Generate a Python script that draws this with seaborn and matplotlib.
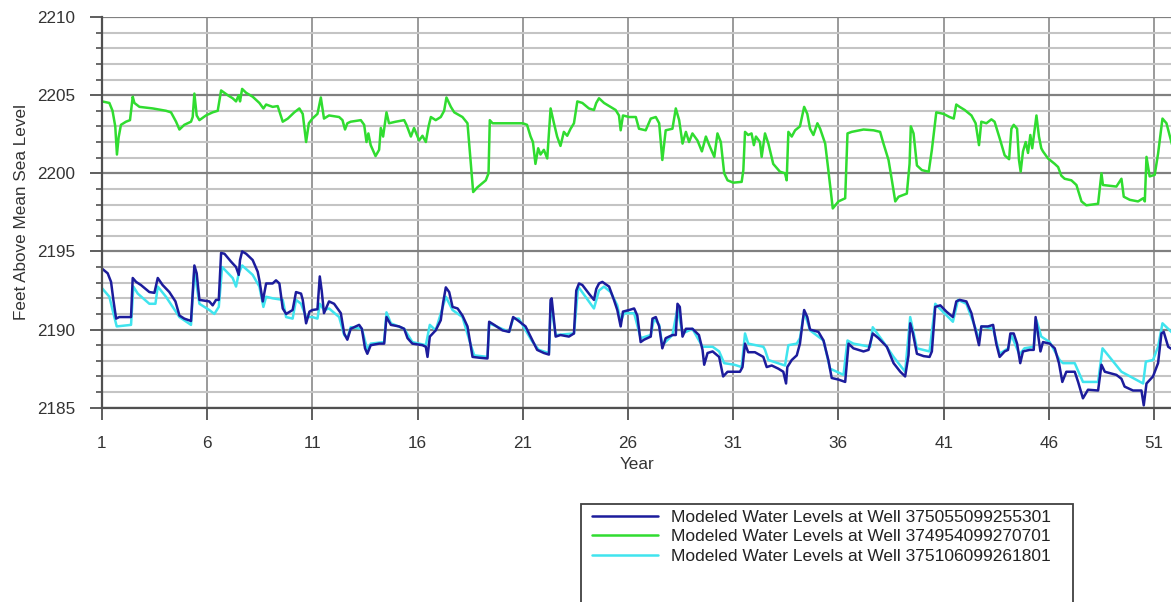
import pandas as pd
import numpy as np
import seaborn as sns
import matplotlib.pyplot as plt
from matplotlib.ticker import MultipleLocator
from matplotlib.patches import Rectangle

# well labels
label_a = 'Modeled Water Levels at Well 375055099255301'
label_b = 'Modeled Water Levels at Well 374954099270701'
label_c = 'Modeled Water Levels at Well 375106099261801'

# well 374954099270701 (green, upper series)
green_year = [1.0, 1.35, 1.5, 1.63, 1.71, 1.79, 1.9, 2.14, 2.33, 2.46, 2.54, 2.78, 3.41, 4.04, 4.28, 4.52,
              4.68, 4.91, 5.23, 5.31, 5.39, 5.5, 5.63, 5.94, 6.26, 6.5, 6.66, 6.97, 7.21, 7.37, 7.5, 7.56,
              7.66, 7.85, 8.16, 8.48, 8.67, 8.8, 9.11, 9.35, 9.59, 9.83, 10.14, 10.38, 10.54, 10.7, 10.83,
              11.0, 11.24, 11.4, 11.55, 11.79, 12.27, 12.43, 12.55, 12.66, 12.82, 13.3, 13.46, 13.57, 13.66,
              13.77, 14.0, 14.17, 14.25, 14.36, 14.52, 14.64, 14.96, 15.36, 15.47, 15.68, 15.83, 16.07, 16.23,
              16.39, 16.52, 16.63, 16.86, 17.1, 17.26, 17.37, 17.58, 17.74, 18.13, 18.37, 18.53, 18.64, 18.84,
              19.24, 19.37, 19.43, 19.56, 20.35,
              21.0, 21.2, 21.37, 21.48, 21.6, 21.73, 21.84, 22.0, 22.16, 22.32, 22.48, 22.63, 22.79, 22.95,
              23.11, 23.27, 23.43, 23.59, 23.83, 24.14, 24.38, 24.49, 24.62, 24.86, 25.17, 25.41, 25.57, 25.65,
              25.76, 26.05, 26.37, 26.52, 26.84, 27.08, 27.32, 27.48, 27.63, 27.79, 28.11, 28.27, 28.43, 28.59,
              28.75, 28.9, 29.06, 29.3, 29.51, 29.7, 29.86, 30.1, 30.25, 30.41, 30.57, 30.73,
              31.0, 31.4, 31.48, 31.56, 31.71, 31.87, 31.98, 32.08, 32.27, 32.35, 32.51, 32.67, 32.9, 33.22,
              33.46, 33.54, 33.62, 33.78, 33.94, 34.17, 34.37, 34.52, 34.65, 34.81, 35.0, 35.13, 35.37, 35.52,
              35.73, 36.0, 36.32, 36.43, 36.63, 37.19, 37.67, 37.98, 38.14, 38.38, 38.54, 38.7, 38.86, 39.25,
              39.38, 39.44, 39.57, 39.73, 39.97, 40.29, 40.44, 40.65,
              41.0, 41.28, 41.48, 41.6, 41.76, 42.0, 42.32, 42.52, 42.68, 42.79, 43.03, 43.27, 43.42, 43.66,
              43.9, 44.11, 44.22, 44.33, 44.49, 44.58, 44.66, 44.77, 44.9, 45.01, 45.12, 45.21, 45.41, 45.53,
              45.64, 45.72, 45.96, 46.28, 46.44, 46.59, 46.75, 47.07, 47.31, 47.55, 47.78, 48.34, 48.5, 48.57,
              49.21, 49.45, 49.56, 49.85, 50.24, 50.48, 50.56, 50.64, 50.79, 51.03, 51.19, 51.4, 51.59, 51.9]
green_ft = [2204.6, 2204.5, 2204.0, 2203.0, 2201.2, 2202.3, 2203.1, 2203.3, 2203.4, 2204.9, 2204.5, 2204.25,
            2204.15, 2204.0, 2203.9, 2203.3, 2202.8, 2203.1, 2203.3, 2203.6, 2205.1, 2203.7, 2203.4, 2203.7,
            2203.9, 2204.0, 2205.3, 2205.0, 2204.8, 2204.6, 2205.0, 2204.6, 2205.4, 2205.15, 2204.9, 2204.5,
            2204.15, 2204.4, 2204.25, 2204.3, 2203.3, 2203.5, 2203.9, 2204.15, 2203.8, 2202.0, 2203.2,
            2203.5, 2203.8, 2204.85, 2203.5, 2203.7, 2203.6, 2203.4, 2202.8, 2203.2, 2203.3, 2203.4, 2203.1,
            2202.0, 2202.55, 2201.8, 2201.1, 2201.5, 2202.9, 2202.35, 2203.9, 2203.2, 2203.3, 2203.4, 2203.1,
            2202.35, 2202.9, 2202.1, 2202.4, 2202.0, 2203.0, 2203.6, 2203.4, 2203.6, 2204.0, 2204.85, 2204.25,
            2203.9, 2203.6, 2203.2, 2200.6, 2198.8, 2199.1, 2199.55, 2200.0, 2203.4, 2203.2, 2203.2,
            2203.2, 2203.1, 2202.35, 2202.0, 2200.6, 2201.6, 2201.2, 2201.5, 2200.95, 2204.15, 2203.2, 2202.35,
            2201.75, 2202.65, 2202.4, 2202.85, 2203.2, 2204.6, 2204.5, 2204.15, 2204.05, 2204.5, 2204.8, 2204.5,
            2204.25, 2204.05, 2203.7, 2202.75, 2203.7, 2203.6, 2203.6, 2202.85, 2202.75, 2203.5, 2203.6, 2203.2,
            2200.85, 2202.75, 2202.85, 2204.15, 2203.4, 2201.9, 2202.65, 2202.0, 2202.55, 2202.1, 2201.4,
            2202.35, 2201.8, 2201.05, 2202.55, 2202.0, 2200.0, 2199.55,
            2199.4, 2199.45, 2200.2, 2202.65, 2202.45, 2202.55, 2201.8, 2202.35, 2202.0, 2201.05, 2202.55,
            2201.9, 2200.6, 2200.1, 2200.0, 2199.55, 2202.65, 2202.35, 2202.75, 2203.0, 2204.25, 2203.8,
            2202.85, 2202.45, 2203.2, 2202.85, 2201.9, 2200.2, 2197.75, 2198.2, 2198.4, 2202.55, 2202.65,
            2202.8, 2202.75, 2202.65, 2201.9, 2200.85, 2199.55, 2198.2, 2198.5, 2198.7, 2200.6, 2203.0,
            2202.55, 2200.5, 2200.2, 2200.1, 2201.5, 2203.9,
            2203.8, 2203.6, 2203.5, 2204.4, 2204.25, 2204.05, 2203.7, 2203.2, 2201.8, 2203.3, 2203.2, 2203.45,
            2203.3, 2202.25, 2201.15, 2200.9, 2202.85, 2203.1, 2202.85, 2200.85, 2200.1, 2201.4, 2202.0,
            2201.3, 2202.45, 2201.6, 2203.7, 2202.35, 2201.6, 2201.4, 2200.95, 2200.6, 2200.4, 2199.85,
            2199.65, 2199.55, 2199.25, 2198.2, 2197.95, 2198.05, 2200.0, 2199.25, 2199.15, 2199.65, 2198.5,
            2198.3, 2198.2, 2198.4, 2198.2, 2201.05, 2199.8, 2199.9, 2201.25, 2203.5, 2203.2, 2201.6]

# well 375055099255301 (dark blue)
blue_year = [1.0, 1.27, 1.43, 1.54, 1.67, 1.82, 2.38, 2.46, 2.62, 2.85, 3.25, 3.49, 3.65, 3.88, 4.2, 4.49,
             4.68, 4.91, 5.23, 5.34, 5.39, 5.5, 5.63, 5.87, 6.1, 6.26, 6.42, 6.55, 6.66, 6.82, 7.13, 7.37,
             7.5, 7.56, 7.66, 7.85, 8.16, 8.4, 8.48, 8.64, 8.8, 9.11, 9.27, 9.43, 9.59, 9.75, 10.06, 10.22,
             10.46, 10.54, 10.7, 10.86,
             11.0, 11.24, 11.35, 11.44, 11.55, 11.79, 12.03, 12.35, 12.51, 12.66, 12.82, 13.22, 13.35, 13.5,
             13.61, 13.77, 14.17, 14.41, 14.52, 14.73, 15.12, 15.36, 15.52, 15.75, 16.23, 16.39, 16.47, 16.58,
             16.86, 17.1, 17.21, 17.34, 17.5, 17.66, 17.9, 18.13, 18.37, 18.53, 18.61, 18.92, 19.32, 19.4,
             19.64, 20.03, 20.35, 20.54, 20.75,
             21.13, 21.44, 21.68, 22.0, 22.24, 22.32, 22.37, 22.56, 22.79, 23.19, 23.43, 23.54, 23.67, 23.83,
             24.14, 24.38, 24.49, 24.62, 24.78, 25.1, 25.33, 25.49, 25.65, 25.76, 26.05, 26.29, 26.44, 26.6,
             26.76, 27.08, 27.16, 27.32, 27.48, 27.63, 27.79, 28.11, 28.27, 28.35, 28.46, 28.59, 28.75, 29.06,
             29.37, 29.54, 29.62, 29.78, 30.02, 30.33, 30.52, 30.73,
             31.32, 31.44, 31.56, 31.71, 32.03, 32.43, 32.59, 32.83, 33.14, 33.38, 33.51, 33.57, 33.78, 34.02,
             34.17, 34.37, 34.52, 34.65, 35.05, 35.29, 35.52, 35.68, 36.0, 36.32, 36.48, 36.71, 37.19, 37.43,
             37.63, 37.9, 38.3, 38.62, 38.94, 39.17, 39.33, 39.41, 39.54, 39.73, 40.05, 40.33, 40.44, 40.6,
             40.84,
             41.13, 41.44, 41.6, 41.76, 42.08, 42.32, 42.55, 42.68, 42.79, 43.11, 43.35, 43.5, 43.66, 43.9,
             44.06, 44.17, 44.33, 44.49, 44.64, 44.77, 45.09, 45.28, 45.37, 45.48, 45.6, 45.72, 46.04, 46.28,
             46.48, 46.64, 46.83, 47.23, 47.39, 47.62, 47.86, 48.34, 48.5, 48.66, 49.21, 49.45, 49.6, 50.0,
             50.4, 50.51, 50.64, 50.95, 51.19, 51.35, 51.46, 51.67, 51.9]
blue_ft = [2193.9, 2193.6, 2193.05, 2191.9, 2190.7, 2190.8, 2190.8, 2193.3, 2193.05, 2192.85, 2192.4, 2192.35,
           2193.3, 2192.85, 2192.4, 2191.8, 2190.9, 2190.7, 2190.55, 2192.95, 2194.1, 2193.6, 2191.9, 2191.85,
           2191.8, 2191.55, 2191.9, 2191.9, 2194.9, 2194.85, 2194.35, 2194.0, 2193.5, 2194.45, 2195.0, 2194.85,
           2194.45, 2193.7, 2193.15, 2191.8, 2192.95, 2192.95, 2193.15, 2192.95, 2191.35, 2191.0, 2191.25,
           2192.4, 2192.3, 2191.9, 2190.4, 2191.15,
           2191.25, 2191.3, 2193.4, 2192.5, 2191.05, 2191.8, 2191.65, 2191.05, 2189.75, 2189.35, 2190.05,
           2190.3, 2190.05, 2188.8, 2188.45, 2189.0, 2189.1, 2189.1, 2190.8, 2190.3, 2190.2, 2190.05, 2189.45,
           2189.1, 2189.0, 2188.9, 2188.25, 2189.55, 2189.95, 2190.6, 2191.7, 2192.7, 2192.4, 2191.45, 2191.35,
           2190.9, 2190.2, 2188.9, 2188.25, 2188.2, 2188.15, 2190.5, 2190.3, 2189.95, 2189.85, 2190.8, 2190.6,
           2190.2, 2189.35, 2188.7, 2188.5, 2188.4, 2191.9, 2192.0, 2189.55, 2189.65, 2189.55, 2189.75, 2192.5,
           2192.95, 2192.85, 2192.3, 2191.9, 2192.6, 2192.95, 2193.05, 2192.75, 2191.9, 2191.25, 2190.2,
           2191.15, 2191.25, 2191.35, 2190.9, 2189.2, 2189.35, 2189.55, 2190.7, 2190.8, 2190.2, 2188.8,
           2189.45, 2189.65, 2189.65, 2191.65, 2191.45, 2189.55, 2190.05, 2190.05, 2189.65, 2188.7, 2187.75,
           2188.5, 2188.6, 2188.25, 2187.0, 2187.3,
           2187.3, 2187.6, 2189.1, 2188.55, 2188.55, 2188.25, 2187.6, 2187.7, 2187.5, 2187.3, 2186.55, 2187.6,
           2188.05, 2188.35, 2189.1, 2191.25, 2190.8, 2190.0, 2189.85, 2189.3, 2188.05, 2186.9, 2186.8,
           2186.65, 2189.1, 2188.8, 2188.6, 2188.7, 2189.75, 2189.45, 2188.9, 2187.85, 2187.3, 2187.0, 2188.35,
           2190.4, 2189.75, 2188.45, 2188.3, 2188.25, 2188.6, 2191.45, 2191.55,
           2191.15, 2190.8, 2191.8, 2191.9, 2191.8, 2191.05, 2189.75, 2189.0, 2190.2, 2190.2, 2190.3, 2189.1,
           2188.25, 2188.6, 2188.7, 2189.75, 2189.75, 2189.1, 2187.85, 2188.6, 2188.7, 2188.7, 2190.8, 2189.75,
           2188.6, 2189.2, 2189.1, 2188.8, 2187.85, 2186.65, 2187.3, 2187.3, 2186.65, 2185.6, 2186.15, 2186.1,
           2187.75, 2187.3, 2187.1, 2186.85, 2186.35, 2186.1, 2186.1, 2185.15, 2186.55, 2187.0, 2187.85,
           2189.75, 2189.85, 2188.9, 2188.7]

# well 375106099261801 (cyan)
cyan_year = [1.0, 1.35, 1.54, 1.7, 2.38, 2.49, 2.7, 3.25, 3.54, 3.65, 4.04, 4.68, 5.23, 5.39, 5.63, 6.1,
             6.34, 6.55, 6.71, 7.21, 7.37, 7.5, 7.66, 8.16, 8.48, 8.67, 8.8, 9.11, 9.59, 9.75, 10.06, 10.22,
             10.46, 10.7,
             11.0, 11.24, 11.35, 11.55, 11.79, 12.27, 12.51, 12.66, 12.82, 13.35, 13.61, 13.77, 14.41, 14.52,
             14.73, 15.36, 15.75, 16.39, 16.58, 16.86, 17.34, 17.66, 18.13, 18.53, 18.69, 19.32, 19.4, 20.35,
             20.54,
             20.81, 21.44, 21.76, 22.24, 22.33, 22.56, 23.43, 23.63, 23.98, 24.38, 24.62, 24.86, 25.17, 25.49,
             25.65, 25.81, 26.29, 26.6, 27.08, 27.24, 27.48, 27.63, 28.11, 28.35, 28.59, 29.06, 29.54, 30.02,
             30.33, 30.57,
             31.05, 31.4, 31.56, 31.71, 32.43, 32.51, 32.67, 33.46, 33.62, 34.02, 34.17, 34.37, 34.65, 35.29,
             35.6, 36.24, 36.43, 36.71, 37.51, 37.63, 38.14, 38.62, 39.17, 39.41, 39.73, 40.33, 40.6,
             40.81, 41.44, 41.68, 42.08, 42.55, 42.68, 42.79, 43.35, 43.66, 44.06, 44.22, 44.6, 44.84, 45.28,
             45.41, 45.64, 46.04, 46.51, 46.67, 47.23, 47.62, 48.34, 48.55, 49.45, 50.48, 50.61, 50.95, 51.19,
             51.4, 51.9]
cyan_ft = [2192.65, 2192.1, 2191.05, 2190.2, 2190.3, 2192.75, 2192.3, 2191.65, 2191.65, 2192.75, 2192.1,
           2190.8, 2190.3, 2193.8, 2191.65, 2191.25, 2191.0, 2191.45, 2194.0, 2193.3, 2192.75, 2193.6, 2194.1,
           2193.5, 2192.75, 2191.45, 2192.1, 2192.0, 2191.9, 2190.8, 2190.7, 2191.9, 2191.65, 2190.8,
           2190.8, 2190.7, 2191.65, 2191.25, 2191.35, 2190.8, 2189.65, 2189.45, 2190.15, 2190.05, 2188.7,
           2189.1, 2189.2, 2191.1, 2190.4, 2190.05, 2189.2, 2189.0, 2190.3, 2189.95, 2192.1, 2191.25, 2190.8,
           2189.0, 2188.35, 2188.25, 2190.4, 2189.85, 2190.7,
           2190.7, 2189.25, 2188.7, 2188.5, 2191.7, 2189.65, 2189.75, 2192.75, 2192.1, 2191.35, 2192.5,
           2192.75, 2192.4, 2191.55, 2190.5, 2191.05, 2191.05, 2189.45, 2189.65, 2190.7, 2190.3, 2189.0,
           2189.65, 2191.35, 2189.75, 2190.05, 2188.9, 2188.9, 2188.6, 2187.85,
           2187.75, 2187.6, 2189.75, 2189.1, 2188.9, 2188.7, 2188.05, 2187.7, 2189.0, 2189.1, 2189.45,
           2191.15, 2189.95, 2189.3, 2187.5, 2187.1, 2189.3, 2189.1, 2188.9, 2190.15, 2189.2, 2188.25,
           2187.3, 2190.8, 2188.8, 2188.6, 2191.65,
           2191.35, 2190.5, 2191.9, 2191.65, 2189.95, 2189.3, 2190.2, 2190.05, 2188.45, 2188.8, 2189.65,
           2188.4, 2188.8, 2188.9, 2190.6, 2189.55, 2189.2, 2188.05, 2187.85, 2187.85, 2186.65, 2186.65,
           2188.8, 2187.3, 2186.55, 2187.95, 2188.05, 2188.9, 2190.4, 2189.75]

year_ticks = [1, 6, 11, 16, 21, 26, 31, 36, 41, 46, 51]

blue_color = '#1c1c9c'
green_color = '#30dc30'
cyan_color = '#40e4ee'

df_green = pd.DataFrame({'Year': green_year, 'Level': green_ft})
df_blue = pd.DataFrame({'Year': blue_year, 'Level': blue_ft})
df_cyan = pd.DataFrame({'Year': cyan_year, 'Level': cyan_ft})

sns.set_style('white')
plt.rcParams['font.family'] = ['Liberation Sans', 'DejaVu Sans']

W, H = 1171, 602
fig = plt.figure(figsize=(W / 100, H / 100), dpi=100)
ax = fig.add_axes([102 / W, 1 - 407.7 / H, 1071 / W, 390.7 / H])

sns.lineplot(data=df_green, x='Year', y='Level', color=green_color, lw=1.8,
             estimator=None, label=label_b, ax=ax)
sns.lineplot(data=df_cyan, x='Year', y='Level', color=cyan_color, lw=1.8,
             estimator=None, label=label_c, ax=ax)
sns.lineplot(data=df_blue, x='Year', y='Level', color=blue_color, lw=1.8,
             estimator=None, label=label_a, ax=ax)

ax.set_xlim(1, 51.9)
ax.set_ylim(2185, 2210)
ax.set_xticks(year_ticks)
ax.set_yticks([2185, 2190, 2195, 2200, 2205, 2210])
ax.yaxis.set_minor_locator(MultipleLocator(1))

ax.set_axisbelow(True)
ax.grid(which='minor', axis='y', color='#c4c4c4', lw=1.5)
ax.grid(which='major', axis='y', color='#808080', lw=1.6)
ax.grid(which='major', axis='x', color='#9a9a9a', lw=1.4)

for side in ['top', 'right']:
    ax.spines[side].set_visible(False)
for side in ['left', 'bottom']:
    ax.spines[side].set_color('#505050')
    ax.spines[side].set_linewidth(1.6)

ax.tick_params(axis='x', which='major', bottom=True, direction='out', length=8.6,
               width=1.3, color='#505050', labelsize=12.3, labelcolor='#333333', pad=12)
ax.tick_params(axis='y', which='major', left=True, direction='out', length=8.6,
               width=1.3, color='#505050', labelsize=12.3, labelcolor='#333333', pad=10.5)
ax.tick_params(axis='y', which='minor', left=True, direction='out', length=4,
               width=1.2, color='#505050')

ax.set_xlabel('Year', fontsize=12.3, color='#333333')
ax.set_ylabel('Feet Above Mean Sea Level', fontsize=12.3, color='#333333')
ax.xaxis.set_label_coords(0.5, -0.127)
ax.yaxis.set_label_coords(-0.0686, 0.5)

# legend below the plot, box runs off the bottom edge
handles, labels = ax.get_legend_handles_labels()
order = [labels.index(label_a), labels.index(label_b), labels.index(label_c)]
ax.get_legend().remove()
leg = fig.legend([handles[i] for i in order], [labels[i] for i in order],
                 loc='upper left', bbox_to_anchor=(592 / W, 1 - 510 / H),
                 frameon=False, borderpad=0, borderaxespad=0, handlelength=3.8,
                 handletextpad=0.75, labelspacing=0.24, fontsize=12.5)
for t in leg.get_texts():
    t.set_color('#222222')
fig.patches.append(Rectangle((581 / W, -0.05), (1073 - 581) / W, (602 - 504) / H + 0.05,
                             transform=fig.transFigure, fill=False, edgecolor='#404040', lw=1.3))

fig.savefig('out.png', dpi=100)
